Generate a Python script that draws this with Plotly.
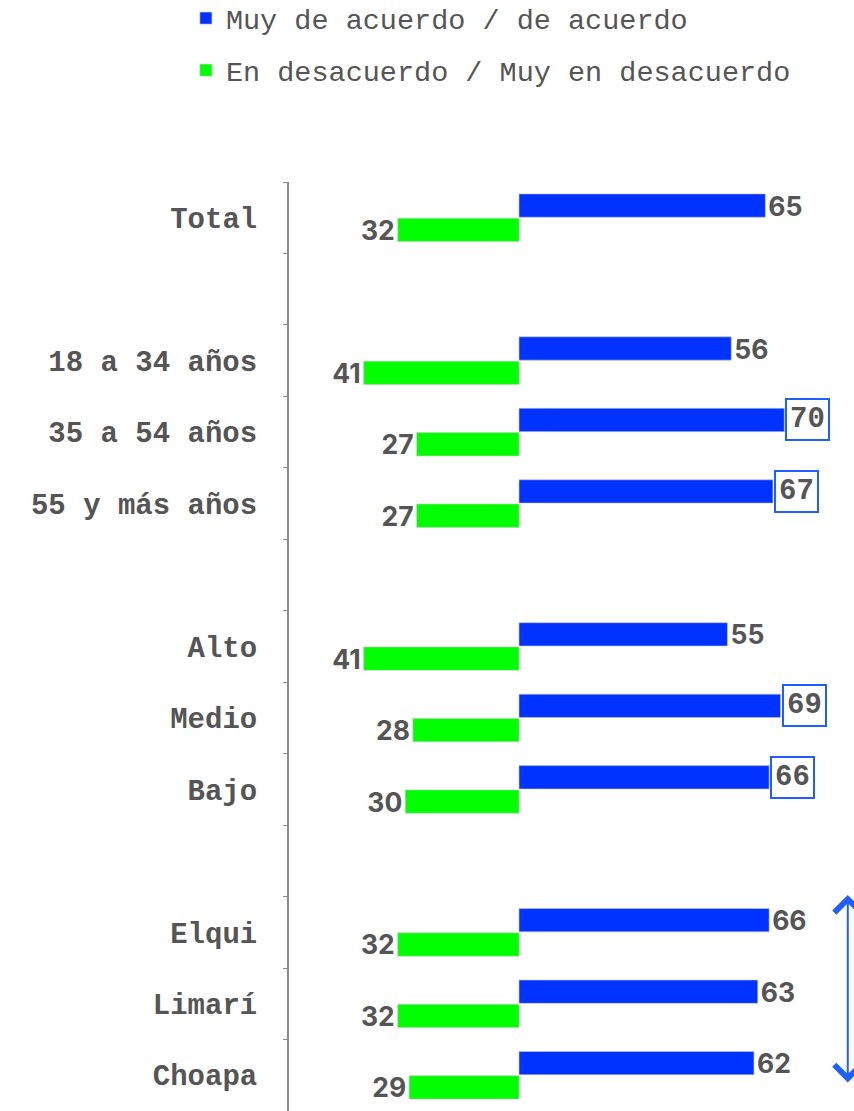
import plotly.graph_objects as go

# Categories (blank entries act as spacers between groups)
categorias = ["Total", " ", "18 a 34 años", "35 a 54 años", "55 y más años", "  ",
              "Alto", "Medio", "Bajo", "   ", "Elqui", "Limarí", "Choapa"]
acuerdo = [65, None, 56, 70, 67, None, 55, 69, 66, None, 66, 63, 62]
desacuerdo = [32, None, 41, 27, 27, None, 41, 28, 30, None, 32, 32, 29]
# values shown inside a framed label
destacado = [False, False, False, True, True, False, False, True, True, False, False, False, False]

AZUL = "#0033ff"
VERDE = "#00ff00"
GRIS = "#555555"
MARCO = "#1f5fff"

BARGAP = 0.32

texto_acuerdo = ["" if (v is None or d) else str(v) for v, d in zip(acuerdo, destacado)]
texto_desacuerdo = ["" if v is None else str(v) for v in desacuerdo]

fuente_valor = dict(family="Inter", size=26.5, color=GRIS, weight="bold")

fig = go.Figure()
fig.add_trace(go.Bar(
    name="Muy de acuerdo / de acuerdo",
    y=categorias, x=acuerdo, orientation="h",
    marker=dict(color=AZUL, line=dict(color="#c8c8c8", width=0.6)),
    text=texto_acuerdo, textposition="outside", constraintext="none", cliponaxis=False,
    textfont=fuente_valor,
    legendgroup="a",
))
fig.add_trace(go.Bar(
    name="En desacuerdo / Muy en desacuerdo",
    y=categorias, x=[None if v is None else -v for v in desacuerdo], orientation="h",
    marker=dict(color=VERDE, line=dict(color="#c8c8c8", width=0.6)),
    text=texto_desacuerdo, textposition="outside", constraintext="none", cliponaxis=False,
    textfont=fuente_valor,
    legendgroup="b",
))

# framed value labels for highlighted categories
desplaz = (1 - BARGAP) / 4
for i, (v, d) in enumerate(zip(acuerdo, destacado)):
    if d and v is not None:
        fig.add_annotation(
            x=v, y=i - desplaz, xref="x", yref="y",
            text=str(v), showarrow=False, xanchor="left", yanchor="middle", xshift=1,
            font=dict(family="Liberation Mono", size=29, color=GRIS, weight="bold"),
            bordercolor=MARCO, borderwidth=2, borderpad=3, bgcolor="white",
        )

# double-headed bracket arrow next to the province group
fig.add_annotation(
    x=0.989, y=12.1, xref="paper", yref="y",
    ax=0, ay=-189, axref="pixel", ayref="pixel",
    text="", showarrow=True, arrowside="end+start",
    arrowhead=4, arrowsize=2.6, arrowwidth=2, arrowcolor=MARCO,
)

fig.update_layout(
    width=854, height=1111,
    margin=dict(l=289, r=0, t=182, b=0, autoexpand=False),
    plot_bgcolor="white", paper_bgcolor="white",
    barmode="group", bargap=BARGAP, bargroupgap=0.04,
    showlegend=True,
    legend=dict(
        xref="container", yref="paper", x=0.2177, y=1.2034, xanchor="left", yanchor="top",
        font=dict(family="Liberation Mono", size=28.5, color=GRIS),
        traceorder="grouped", tracegroupgap=12,
        bgcolor="rgba(0,0,0,0)",
    ),
    xaxis=dict(range=[-60.69, 88.39], visible=False, zeroline=False, showgrid=False),
    yaxis=dict(
        categoryorder="array", categoryarray=categorias,
        range=[12.5, -0.5],
        showline=True, linecolor="#8c8c8c", linewidth=2,
        ticks="outside", tickson="boundaries", ticklen=4, tickcolor="#8c8c8c",
        ticklabelstandoff=24,
        showgrid=False, zeroline=False,
        tickfont=dict(family="Liberation Mono", size=29, color=GRIS, weight="bold"),
    ),
)

fig.write_html("out.html")
